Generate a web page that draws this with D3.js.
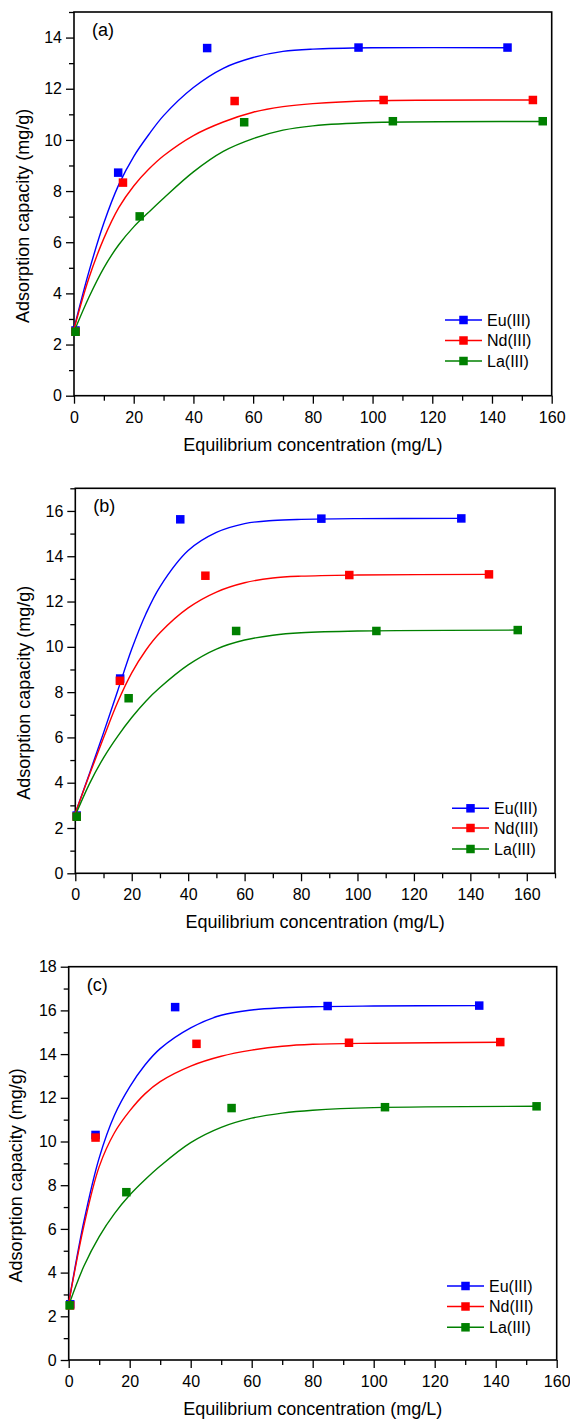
<!DOCTYPE html>
<html>
<head>
<meta charset="utf-8">
<script src="https://cdn.jsdelivr.net/npm/d3@7"></script>
<style>
  body { margin: 0; background: #fff; }
  svg text { font-family: "Liberation Sans", Arial, sans-serif; fill: #000; }
</style>
</head>
<body>
<svg id="chart" width="570" height="1423"></svg>
<script>
const seriesNames = ["Eu(III)", "Nd(III)", "La(III)"];
const seriesColors = ["#0000ff", "#ff0000", "#008000"];
const panelLabels = ["(a)", "(b)", "(c)"];

// x positions of the fitted curve samples (the last sample is the series' last point)
const fitX = [0, 5, 10, 15, 20, 25, 30, 40, 50, 60, 70, 80, 100];
const xTicks = [0, 20, 40, 60, 80, 100, 120, 140, 160];
const aYTicks = [0, 2, 4, 6, 8, 10, 12, 14];
const bYTicks = [0, 2, 4, 6, 8, 10, 12, 14, 16];
const cYTicks = [0, 2, 4, 6, 8, 10, 12, 14, 16, 18];

// panel (a)
const aEuX = [0.5, 14.8, 44.6, 95.3, 145.2];
const aEuY = [2.55, 8.72, 13.59, 13.61, 13.61];
const aNdX = [0.5, 16.4, 53.8, 103.7, 153.7];
const aNdY = [2.5, 8.33, 11.52, 11.56, 11.56];
const aLaX = [0.5, 22.0, 57.0, 106.8, 157.0];
const aLaY = [2.5, 7.01, 10.69, 10.73, 10.73];
const aEuFit = [2.63, 4.85, 6.75, 8.25, 9.35, 10.2, 10.95, 12.05, 12.8, 13.22, 13.46, 13.55, 13.6, 13.6];
const aNdFit = [2.6, 4.6, 6.15, 7.35, 8.2, 8.85, 9.38, 10.17, 10.7, 11.08, 11.3, 11.42, 11.53, 11.56];
const aLaFit = [2.5, 3.85, 5.0, 5.9, 6.6, 7.17, 7.72, 8.75, 9.55, 10.05, 10.38, 10.55, 10.68, 10.72];

// panel (b)
const bEuX = [0.5, 15.9, 37.2, 87.2, 136.8];
const bEuY = [2.55, 8.6, 15.63, 15.66, 15.67];
const bNdX = [0.5, 15.8, 46.1, 97.1, 146.6];
const bNdY = [2.5, 8.5, 13.14, 13.17, 13.2];
const bLaX = [0.5, 18.9, 57.0, 106.7, 156.8];
const bLaY = [2.5, 7.73, 10.7, 10.7, 10.74];
const bEuFit = [2.65, 4.4, 6.2, 8.05, 9.9, 11.45, 12.65, 14.25, 15.05, 15.44, 15.58, 15.63, 15.66, 15.67];
const bNdFit = [2.65, 4.35, 5.98, 7.55, 8.85, 9.85, 10.62, 11.72, 12.42, 12.83, 13.04, 13.12, 13.17, 13.2];
const bLaFit = [2.55, 3.95, 5.1, 6.05, 6.88, 7.6, 8.2, 9.2, 9.9, 10.3, 10.51, 10.62, 10.7, 10.74];

// panel (c)
const cEuX = [0.5, 8.8, 34.9, 84.9, 134.6];
const cEuY = [2.55, 10.3, 16.15, 16.2, 16.22];
const cNdX = [0.5, 8.8, 41.9, 91.9, 141.5];
const cNdY = [2.5, 10.18, 14.47, 14.52, 14.55];
const cLaX = [0.3, 18.9, 53.4, 103.7, 153.4];
const cLaY = [2.5, 7.68, 11.53, 11.57, 11.61];
const cEuFit = [2.6, 6.35, 9.25, 11.2, 12.5, 13.5, 14.25, 15.2, 15.78, 16.02, 16.12, 16.17, 16.2, 16.22];
const cNdFit = [2.6, 6.15, 8.85, 10.4, 11.4, 12.18, 12.74, 13.45, 13.9, 14.18, 14.36, 14.45, 14.5, 14.54];
const cLaFit = [2.5, 4.3, 5.65, 6.7, 7.55, 8.25, 8.88, 9.95, 10.65, 11.07, 11.3, 11.43, 11.55, 11.61];

// layout of the three stacked panels
const panels = [
  { label: panelLabels[0], xMax: 160, yMax: 15, yTicks: aYTicks,
    left: 74, right: 551.7, top: 12, bottom: 395.7, yTitleX: 29, legX: 445, legY: [320, 340.5, 361],
    series: [[aEuX, aEuY, aEuFit], [aNdX, aNdY, aNdFit], [aLaX, aLaY, aLaFit]] },
  { label: panelLabels[1], xMax: 170, yMax: 17, yTicks: bYTicks,
    left: 75.3, right: 555, top: 488.3, bottom: 873.3, yTitleX: 29.5, legX: 452, legY: [808.3, 828, 849],
    series: [[bEuX, bEuY, bEuFit], [bNdX, bNdY, bNdFit], [bLaX, bLaY, bLaFit]] },
  { label: panelLabels[2], xMax: 160, yMax: 18, yTicks: cYTicks,
    left: 68.7, right: 556.7, top: 966.7, bottom: 1360, yTitleX: 21.5, legX: 447, legY: [1286, 1306.5, 1327.3],
    series: [[cEuX, cEuY, cEuFit], [cNdX, cNdY, cNdFit], [cLaX, cLaY, cLaFit]] }
];

const svg = d3.select("#chart");
const MARKER = 8.5;

function styleAxis(g) {
  g.select(".domain").remove();
  g.selectAll(".tick line").attr("stroke", "#000").attr("stroke-width", 1.3);
  g.attr("font-size", 16).attr("font-family", null);
}

panels.forEach(p => {
  const x = d3.scaleLinear().domain([0, p.xMax]).range([p.left, p.right]);
  const y = d3.scaleLinear().domain([0, p.yMax]).range([p.bottom, p.top]);
  const g = svg.append("g");

  // minor ticks
  g.append("g")
    .attr("transform", `translate(0,${p.bottom})`)
    .call(d3.axisBottom(x).tickValues(d3.range(10, p.xMax + 0.1, 20)).tickSize(5).tickFormat(""))
    .call(styleAxis);
  g.append("g")
    .attr("transform", `translate(${p.left},0)`)
    .call(d3.axisLeft(y).tickValues(d3.range(1, p.yMax + 0.1, 2)).tickSize(5).tickFormat(""))
    .call(styleAxis);

  // major ticks + labels
  g.append("g")
    .attr("transform", `translate(0,${p.bottom})`)
    .call(d3.axisBottom(x).tickValues(xTicks).tickSize(8).tickPadding(7.5))
    .call(styleAxis);
  g.append("g")
    .attr("transform", `translate(${p.left},0)`)
    .call(d3.axisLeft(y).tickValues(p.yTicks).tickSize(8).tickPadding(4))
    .call(styleAxis);

  // frame
  g.append("rect")
    .attr("x", p.left).attr("y", p.top)
    .attr("width", p.right - p.left).attr("height", p.bottom - p.top)
    .attr("fill", "none").attr("stroke", "#000").attr("stroke-width", 1.6);

  const line = d3.line()
    .x(d => x(d[0]))
    .y(d => y(d[1]))
    .curve(d3.curveCatmullRom.alpha(0.5));

  p.series.forEach(([xs, ys, fit], i) => {
    const fitPts = fitX.concat([xs[xs.length - 1]]).map((v, k) => [v, fit[k]]);
    g.append("path")
      .attr("d", line(fitPts))
      .attr("fill", "none")
      .attr("stroke", seriesColors[i])
      .attr("stroke-width", 1.4);

    g.selectAll(null)
      .data(xs.map((v, k) => [v, ys[k]]))
      .enter()
      .append("rect")
      .attr("x", d => x(d[0]) - MARKER / 2)
      .attr("y", d => y(d[1]) - MARKER / 2)
      .attr("width", MARKER).attr("height", MARKER)
      .attr("fill", seriesColors[i]);
  });

  // legend
  seriesNames.forEach((name, i) => {
    const ly = p.legY[i];
    g.append("line")
      .attr("x1", p.legX).attr("x2", p.legX + 37)
      .attr("y1", ly).attr("y2", ly)
      .attr("stroke", seriesColors[i]).attr("stroke-width", 1.4);
    g.append("rect")
      .attr("x", p.legX + 18.5 - MARKER / 2).attr("y", ly - MARKER / 2)
      .attr("width", MARKER).attr("height", MARKER)
      .attr("fill", seriesColors[i]);
    g.append("text")
      .attr("x", p.legX + 42).attr("y", ly).attr("dy", "0.35em")
      .attr("font-size", 16)
      .text(name);
  });

  // panel letter
  g.append("text")
    .attr("x", p.left + 18).attr("y", p.top + 24)
    .attr("font-size", 18)
    .text(p.label);

  // axis titles
  g.append("text")
    .attr("x", (p.left + p.right) / 2).attr("y", p.bottom + 55)
    .attr("text-anchor", "middle")
    .attr("font-size", 18)
    .text("Equilibrium concentration (mg/L)");
  g.append("text")
    .attr("transform", `translate(${p.yTitleX},${(p.top + p.bottom) / 2 + 12}) rotate(-90)`)
    .attr("text-anchor", "middle")
    .attr("font-size", 18)
    .text("Adsorption capacity (mg/g)");
});
</script>
</body>
</html>
